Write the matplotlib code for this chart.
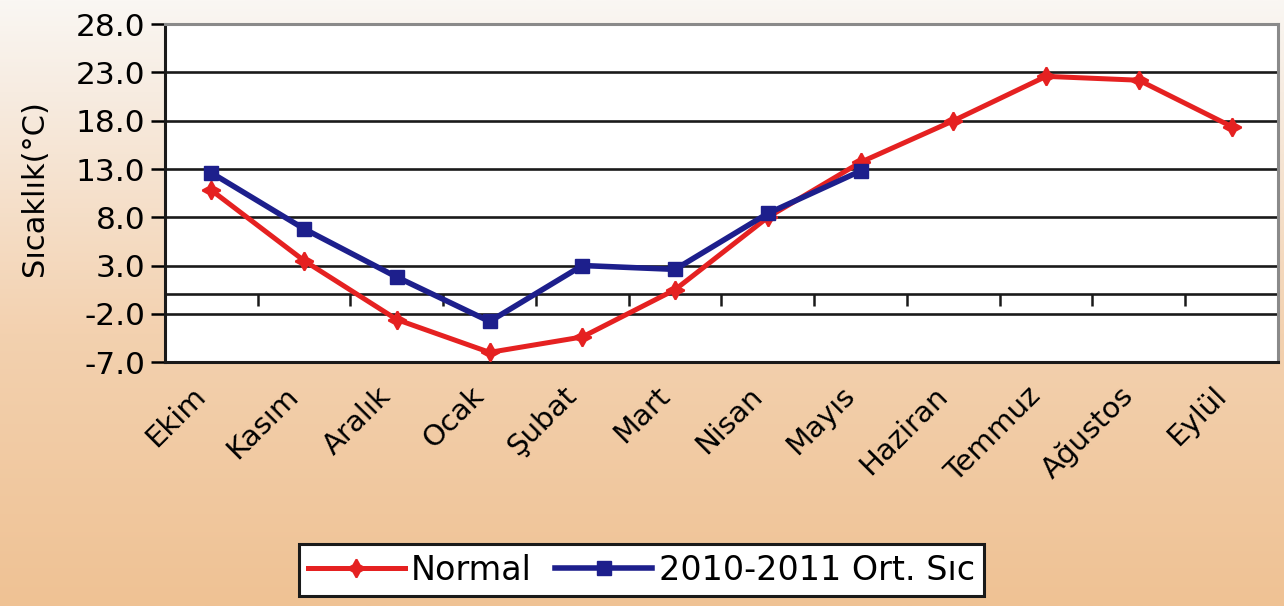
import numpy as np
import matplotlib
matplotlib.use("Agg")
import matplotlib.pyplot as plt
from matplotlib.colors import LinearSegmentedColormap

# Aylar ve sicaklik degerleri
months = ['Ekim', 'Kasım', 'Aralık', 'Ocak', 'Şubat', 'Mart', 'Nisan',
          'Mayıs', 'Haziran', 'Temmuz', 'Ağustos', 'Eylül']
normal = [10.8, 3.5, -2.6, -6.0, -4.4, 0.5, 8.0, 13.7, 18.0, 22.6, 22.2, 17.4]
ort_2010_2011 = [12.6, 6.8, 1.8, -2.8, 3.0, 2.6, 8.4, 12.8]
y_ticks = [-7, -2, 3, 8, 13, 18, 23, 28]

fig = plt.figure(figsize=(12.84, 6.06), dpi=100)

# background gradient (light at top, peach at bottom)
bg = fig.add_axes([0, 0, 1, 1], zorder=-10)
bg_cmap = LinearSegmentedColormap.from_list(
    'bg', [(0.0, '#faf7f3'), (0.15, '#f7ece1'), (0.55, '#f3d1af'), (1.0, '#efc294')])
grad = np.linspace(0, 1, 256).reshape(-1, 1)
bg.imshow(grad, aspect='auto', cmap=bg_cmap, extent=[0, 1, 0, 1], origin='upper')
bg.axis('off')

ax = fig.add_axes([0.1285, 0.4026, 0.8668, 0.5574])
ax.set_facecolor('white')

x = np.arange(len(months)) + 0.5
ax.plot(x, normal, color='#e52121', lw=3.6, marker=(4, 1, 0), markersize=13,
        markeredgewidth=1.5, label='Normal', zorder=4)
ax.plot(x[:len(ort_2010_2011)], ort_2010_2011, color='#1d1f8c', lw=4.0, marker='s',
        markersize=10, label='2010-2011 Ort. Sıc', zorder=5)

ax.set_xlim(0, len(months))
ax.set_ylim(-7, 28)
ax.set_yticks(y_ticks)
ax.set_yticklabels([f'{v:.1f}' for v in y_ticks])
for v in y_ticks:
    ax.axhline(v, color='#1a1a1a', lw=1.9, zorder=1)

# category axis crossing at zero, tick marks at category boundaries
ax.axhline(0, color='#1a1a1a', lw=1.9, zorder=1)
ax.vlines(np.arange(1, len(months) + 1), -1.2, 0, color='#1a1a1a', lw=1.8, zorder=1)

ax.set_xticks(x)
ax.set_xticklabels(months, rotation=45, ha='right', fontsize=21)
ax.tick_params(axis='x', length=0, pad=14)
ax.tick_params(axis='y', length=10, width=1.8, labelsize=22.5, pad=4)

for side in ['left', 'bottom']:
    ax.spines[side].set_color('#1a1a1a')
    ax.spines[side].set_linewidth(2.2)
for side in ['top', 'right']:
    ax.spines[side].set_color('#8a8a8a')
    ax.spines[side].set_linewidth(2.2)

ax.set_ylabel('Sıcaklık(°C)', fontsize=22)
ax.yaxis.set_label_coords(-0.104, 0.515)

leg = fig.legend(loc='center', bbox_to_anchor=(0.4995, 0.0594), ncol=2, fontsize=24,
                 frameon=True, fancybox=False, edgecolor='#1a1a1a', framealpha=1,
                 handlelength=2.9, handletextpad=0.2, columnspacing=0.7,
                 borderpad=0.28, borderaxespad=0)
leg.get_frame().set_linewidth(2.2)

fig.savefig('out.png', dpi=100)
